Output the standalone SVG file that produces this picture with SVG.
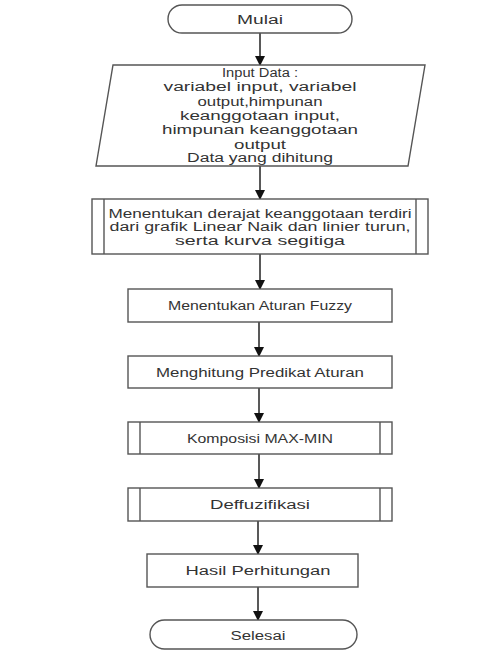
<svg xmlns="http://www.w3.org/2000/svg" width="502" height="653" viewBox="0 0 502 653">
  <defs>
    <marker id="arrow" markerWidth="10" markerHeight="10" refX="9" refY="5" orient="auto" markerUnits="userSpaceOnUse">
      <path d="M0,0 L10,5 L0,10 Z" fill="#111"/>
    </marker>
    <style>
      .shape { fill: #fff; stroke: #555; stroke-width: 1.4; }
      .inner { stroke: #555; stroke-width: 1.4; }
      .label { font-family: "Liberation Sans", Arial, sans-serif; font-size: 12.5px; fill: #333; text-anchor: middle; }
      .flow { stroke: #222; stroke-width: 1.5; fill: none; marker-end: url(#arrow); }
    </style>
  </defs>
  <rect width="502" height="653" fill="#fff"/>

  <g id="connectors">
    <line class="flow" x1="260" y1="33" x2="260" y2="65"/>
    <line class="flow" x1="260" y1="166" x2="260" y2="199"/>
    <line class="flow" x1="260" y1="254" x2="260" y2="289"/>
    <line class="flow" x1="259" y1="322" x2="259" y2="356"/>
    <line class="flow" x1="259" y1="388" x2="259" y2="422"/>
    <line class="flow" x1="259" y1="454" x2="259" y2="488"/>
    <line class="flow" x1="258" y1="521" x2="258" y2="554"/>
    <line class="flow" x1="258" y1="587" x2="258" y2="620"/>
  </g>

  <g id="mulai">
    <rect class="shape" x="168" y="5" width="184" height="28" rx="14" ry="14"/>
    <text class="label" x="260" y="23.5" textLength="46" lengthAdjust="spacingAndGlyphs">Mulai</text>
  </g>

  <g id="input-data">
    <polygon class="shape" points="113,65 425,65 408,166 96,166"/>
    <text class="label" x="260" y="77" textLength="76" lengthAdjust="spacingAndGlyphs">Input Data :</text>
    <text class="label" x="260" y="91.3" textLength="193" lengthAdjust="spacingAndGlyphs">variabel input, variabel</text>
    <text class="label" x="260" y="105.6" textLength="125" lengthAdjust="spacingAndGlyphs">output,himpunan</text>
    <text class="label" x="260" y="119.9" textLength="160" lengthAdjust="spacingAndGlyphs">keanggotaan input,</text>
    <text class="label" x="260" y="134.2" textLength="196" lengthAdjust="spacingAndGlyphs">himpunan keanggotaan</text>
    <text class="label" x="260" y="148.5" textLength="52" lengthAdjust="spacingAndGlyphs">output</text>
    <text class="label" x="260" y="162" textLength="146" lengthAdjust="spacingAndGlyphs">Data yang dihitung</text>
  </g>

  <g id="derajat-keanggotaan">
    <rect class="shape" x="92" y="199" width="336" height="55"/>
    <line class="inner" x1="104" y1="199" x2="104" y2="254"/>
    <line class="inner" x1="416" y1="199" x2="416" y2="254"/>
    <text class="label" x="260" y="217.5" textLength="303" lengthAdjust="spacingAndGlyphs">Menentukan derajat keanggotaan terdiri</text>
    <text class="label" x="260" y="231" textLength="301" lengthAdjust="spacingAndGlyphs">dari grafik Linear Naik dan linier turun,</text>
    <text class="label" x="260" y="244.5" textLength="170" lengthAdjust="spacingAndGlyphs">serta kurva segitiga</text>
  </g>

  <g id="aturan-fuzzy">
    <rect class="shape" x="128" y="289" width="264" height="33"/>
    <text class="label" x="260" y="310" textLength="184" lengthAdjust="spacingAndGlyphs">Menentukan Aturan Fuzzy</text>
  </g>

  <g id="predikat-aturan">
    <rect class="shape" x="128" y="356" width="264" height="32"/>
    <text class="label" x="260" y="376.5" textLength="208" lengthAdjust="spacingAndGlyphs">Menghitung Predikat Aturan</text>
  </g>

  <g id="komposisi">
    <rect class="shape" x="128" y="422" width="264" height="32"/>
    <line class="inner" x1="140" y1="422" x2="140" y2="454"/>
    <line class="inner" x1="380" y1="422" x2="380" y2="454"/>
    <text class="label" x="260" y="442.5" textLength="146" lengthAdjust="spacingAndGlyphs">Komposisi MAX-MIN</text>
  </g>

  <g id="deffuzifikasi">
    <rect class="shape" x="128" y="488" width="264" height="33"/>
    <line class="inner" x1="140" y1="488" x2="140" y2="521"/>
    <line class="inner" x1="380" y1="488" x2="380" y2="521"/>
    <text class="label" x="260" y="509" textLength="100" lengthAdjust="spacingAndGlyphs">Deffuzifikasi</text>
  </g>

  <g id="hasil">
    <rect class="shape" x="147" y="554" width="211" height="33"/>
    <text class="label" x="258" y="575" textLength="145" lengthAdjust="spacingAndGlyphs">Hasil Perhitungan</text>
  </g>

  <g id="selesai">
    <rect class="shape" x="150" y="620" width="207" height="29" rx="14.5" ry="14.5"/>
    <text class="label" x="258" y="639.5" textLength="55" lengthAdjust="spacingAndGlyphs">Selesai</text>
  </g>
</svg>
